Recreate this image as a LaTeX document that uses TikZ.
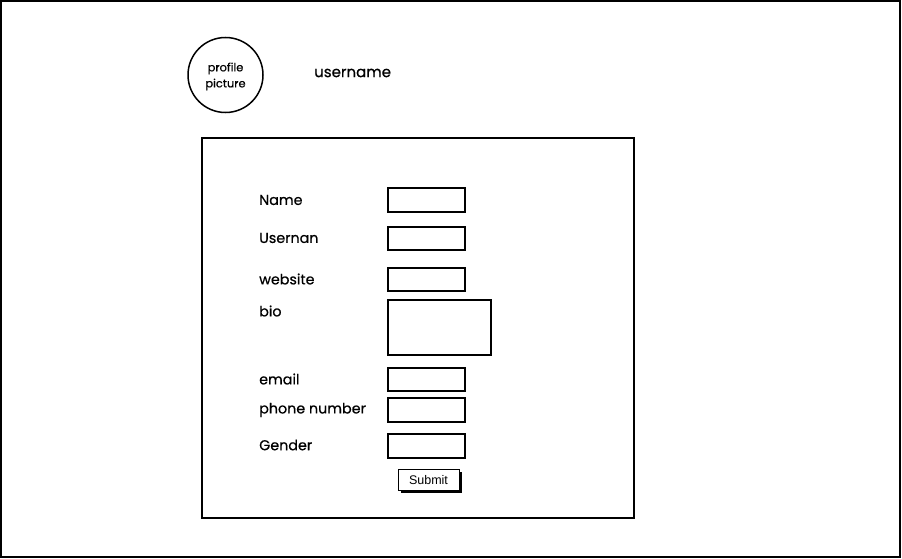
\documentclass[tikz,border=0pt]{standalone}
\usepackage{fontspec}
\setmainfont{Poppins}
\newfontfamily\lblfont{Poppins}[FakeBold=0.6]
\newfontfamily\arialf{Liberation Sans}
\begin{document}
\begin{tikzpicture}[x=1pt,y=-1pt,
  frame/.style={draw=black,line width=1.5pt},
  field/.style={draw=black,line width=1.6pt,fill=white},
  lbl/.style={anchor=west,inner sep=0pt,font=\lblfont\fontsize{14.3}{16}\selectfont},
  smalltxt/.style={align=center,font=\lblfont\fontsize{11.4}{16}\selectfont,inner sep=0pt}]
\useasboundingbox (0,0) rectangle (902,559);
\draw[frame] (1,1) rectangle (900,557);
\node[draw=black,line width=1.5pt,circle,minimum size=75pt,inner sep=0pt] (pic) at (225.5,75) {};
\node[smalltxt] (pictxt) at ([yshift=-1.5pt]pic.center) {profile\\picture};
\node[lbl,font=\lblfont\fontsize{15}{17}\selectfont] (uname) at (314,73) {username};
\draw[frame] (202,138) rectangle (634,518);
\node[lbl] (lname) at (259,200) {Name};
\node[lbl] (luser) at (259,238) {Usernan};
\node[lbl] (lweb) at (259,279) {website};
\node[lbl] (lbio) at (259,311) {bio};
\node[lbl] (lemail) at (259,379) {email};
\node[lbl] (lphone) at (259,410) {phone number};
\node[lbl] (lgender) at (259,445) {Gender};
\draw[field] (388,188) rectangle (465,212);
\draw[field] (388,227) rectangle (465,250);
\draw[field] (388,268) rectangle (465,291);
\draw[field] (388,300) rectangle (491,355);
\draw[field] (388,368) rectangle (465,391);
\draw[field] (388,398) rectangle (465,422);
\draw[field] (388,434) rectangle (465,458);
\fill[black] (401,472) rectangle (462,493);
\node[draw=black,line width=0.8pt,fill=white,minimum width=61pt,minimum height=21pt,inner sep=0pt,font=\arialf\fontsize{12.5}{14}\selectfont] (submit) at (428.5,480) {Submit};
\end{tikzpicture}
\end{document}
